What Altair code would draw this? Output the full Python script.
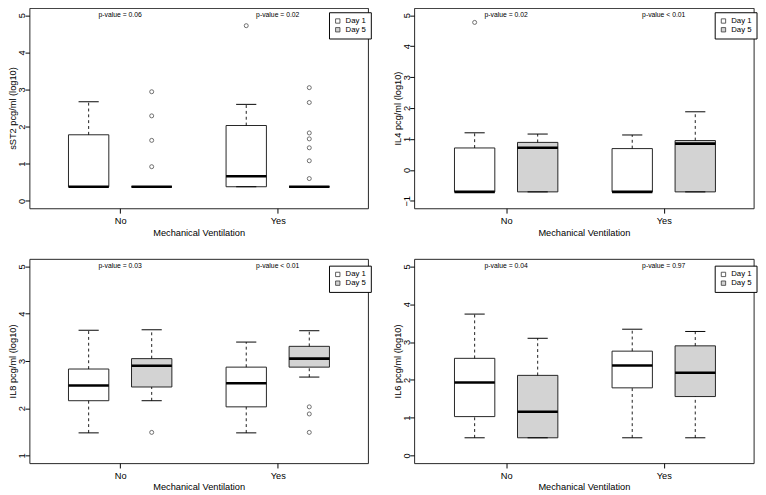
import altair as alt
import pandas as pd

FONT = "Liberation Sans"

# ---- shared categories ----
vent_groups = ["No", "No", "Yes", "Yes"]
days = ["Day 1", "Day 5", "Day 1", "Day 5"]
box_positions = [1.0, 2.0, 3.5, 4.5]
group_positions = [1.5, 4.0]
group_labels = ["No", "Yes"]
day_levels = ["Day 1", "Day 5"]
day_colors = ["white", "#d3d3d3"]
pvalue_y = 5

# ---- sST2 ----
sst2_lo = [0.38, 0.38, 0.38, 0.38]
sst2_q1 = [0.38, 0.38, 0.38, 0.38]
sst2_med = [0.38, 0.38, 0.66, 0.38]
sst2_q3 = [1.78, 0.38, 2.03, 0.38]
sst2_hi = [2.67, 0.38, 2.60, 0.38]
sst2_out_box = [1, 1, 1, 1, 2, 3, 3, 3, 3, 3, 3, 3]
sst2_out_val = [2.94, 2.29, 1.63, 0.92, 4.72, 3.05, 2.65, 1.83, 1.67, 1.43, 1.08, 0.60]
sst2_p = ["p-value = 0.06", "p-value = 0.02"]
sst2_ticks = [0, 1, 2, 3, 4, 5]

# ---- IL4 ----
il4_lo = [-0.71, -0.71, -0.71, -0.71]
il4_q1 = [-0.71, -0.71, -0.71, -0.71]
il4_med = [-0.71, 0.72, -0.71, 0.85]
il4_q3 = [0.71, 0.89, 0.69, 0.95]
il4_hi = [1.20, 1.16, 1.13, 1.88]
il4_out_box = [0]
il4_out_val = [4.77]
il4_p = ["p-value = 0.02", "p-value < 0.01"]
il4_ticks = [-1, 0, 1, 2, 3, 4, 5]

# ---- IL8 ----
il8_lo = [1.48, 2.16, 1.48, 2.66]
il8_q1 = [2.16, 2.45, 2.03, 2.87]
il8_med = [2.48, 2.90, 2.53, 3.05]
il8_q3 = [2.83, 3.05, 2.87, 3.31]
il8_hi = [3.65, 3.66, 3.40, 3.64]
il8_out_box = [1, 3, 3, 3]
il8_out_val = [1.49, 2.03, 1.88, 1.49]
il8_p = ["p-value = 0.03", "p-value < 0.01"]
il8_ticks = [1, 2, 3, 4, 5]

# ---- IL6 ----
il6_lo = [0.47, 0.47, 0.47, 0.47]
il6_q1 = [1.03, 0.47, 1.79, 1.56]
il6_med = [1.93, 1.16, 2.38, 2.19]
il6_q3 = [2.57, 2.12, 2.76, 2.90]
il6_hi = [3.74, 3.10, 3.34, 3.28]
il6_out_box = []
il6_out_val = []
il6_p = ["p-value = 0.04", "p-value = 0.97"]
il6_ticks = [0, 1, 2, 3, 4, 5]

PX_PER_UNIT = 64.8
BOX_HALF = 0.32
CAP_HALF = 0.16


def y_domain(ticks):
    lo, hi = min(ticks), max(ticks)
    ext = (hi - lo) * 0.04
    return [lo - ext, hi + ext]


def panel(ytitle, lo, q1, med, q3, hi, out_box, out_val, pvals, ticks,
          width, height, xmin, legend_top):
    boxes = pd.DataFrame(dict(group=vent_groups, day=days, pos=box_positions,
                              lo=lo, q1=q1, med=med, q3=q3, hi=hi))
    outs = pd.DataFrame(dict(pos=[box_positions[i] for i in out_box],
                             value=list(out_val)))
    ptext = pd.DataFrame(dict(pos=group_positions,
                              y=[pvalue_y] * len(group_positions), label=pvals))

    xs = alt.Scale(domain=[xmin, xmin + width / PX_PER_UNIT], nice=False, zero=False)
    ys = alt.Scale(domain=y_domain(ticks), nice=False, zero=False)
    mid = sum(group_positions) / 2
    xax = alt.Axis(values=group_positions,
                   labelExpr=f"datum.value < {mid} ? '{group_labels[0]}' : '{group_labels[1]}'",
                   tickSize=5, labelPadding=2.5, titlePadding=2.5, labelFlush=False,
                   labelOverlap=False, grid=False, domain=False)
    yax = alt.Axis(values=ticks, labelAngle=270, labelAlign="center",
                   labelBaseline="middle", labelPadding=3.5, tickSize=4.5,
                   minExtent=11, maxExtent=11, titlePadding=1, titleBaseline="bottom",
                   labelFlush=False, labelOverlap=False, grid=False, domain=False,
                   format="d")

    def X(f):
        return alt.X(f, type="quantitative", scale=xs, axis=xax,
                     title="Mechanical Ventilation")

    def Y(f):
        return alt.Y(f, type="quantitative", scale=ys, axis=yax, title=ytitle)

    base = alt.Chart(boxes).transform_calculate(
        x1=f"datum.pos - {BOX_HALF}", x2=f"datum.pos + {BOX_HALF}",
        c1=f"datum.pos - {CAP_HALF}", c2=f"datum.pos + {CAP_HALF}")

    rect = base.mark_rect(stroke="#222", strokeWidth=1).encode(
        x=X("x1"), x2="x2:Q", y=Y("q1"), y2="q3:Q",
        fill=alt.Fill("day:N", scale=alt.Scale(domain=day_levels, range=day_colors),
                      legend=alt.Legend(orient="none", legendX=width - 40,
                                        legendY=legend_top, title=None,
                                        strokeColor="black", fillColor="white",
                                        padding=5, symbolType="square", symbolSize=20,
                                        symbolStrokeColor="#333", symbolStrokeWidth=0.8,
                                        labelFontSize=8, labelFont=FONT, labelOffset=4,
                                        rowPadding=1, labelColor="black")))
    whisk_up = base.mark_rule(strokeDash=[3, 3], color="black", strokeWidth=0.9).encode(
        x=X("pos"), y=Y("q3"), y2="hi:Q")
    whisk_lo = base.mark_rule(strokeDash=[3, 3], color="black", strokeWidth=0.9).encode(
        x=X("pos"), y=Y("lo"), y2="q1:Q")
    cap_hi = base.mark_rule(color="black", strokeWidth=1).encode(
        x=X("c1"), x2="c2:Q", y=Y("hi"))
    cap_lo = base.mark_rule(color="black", strokeWidth=1).encode(
        x=X("c1"), x2="c2:Q", y=Y("lo"))
    median = base.mark_rule(color="black", strokeWidth=2.6).encode(
        x=X("x1"), x2="x2:Q", y=Y("med"))
    layers = [rect, whisk_up, whisk_lo, cap_hi, cap_lo, median]
    if len(outs):
        layers.append(alt.Chart(outs).mark_point(shape="circle", filled=False, size=17,
                                                 color="black", strokeWidth=0.8).encode(
            x=X("pos"), y=Y("value")))
    layers.append(alt.Chart(ptext).mark_text(fontSize=7, font=FONT, baseline="middle",
                                             color="black").encode(
        x=X("pos"), y=Y("y"), text="label:N"))
    return alt.layer(*layers).properties(width=width, height=height)


LEFT_W, LEFT_XMIN = 348, 0.06
RIGHT_W, RIGHT_XMIN = 349, 0.04
TOP_H, BOTTOM_H = 206, 210

p1 = panel("sST2 pcg/ml (log10)", sst2_lo, sst2_q1, sst2_med, sst2_q3, sst2_hi,
           sst2_out_box, sst2_out_val, sst2_p, sst2_ticks, LEFT_W, TOP_H, LEFT_XMIN, 4.5)
p2 = panel("IL4 pcg/ml (log10)", il4_lo, il4_q1, il4_med, il4_q3, il4_hi,
           il4_out_box, il4_out_val, il4_p, il4_ticks, RIGHT_W, TOP_H, RIGHT_XMIN, 4.5)
p3 = panel("IL8 pcg/ml (log10)", il8_lo, il8_q1, il8_med, il8_q3, il8_hi,
           il8_out_box, il8_out_val, il8_p, il8_ticks, LEFT_W, BOTTOM_H, LEFT_XMIN, 7)
p4 = panel("IL6 pcg/ml (log10)", il6_lo, il6_q1, il6_med, il6_q3, il6_hi,
           il6_out_box, il6_out_val, il6_p, il6_ticks, RIGHT_W, BOTTOM_H, RIGHT_XMIN, 7)


def row(a, b):
    return alt.hconcat(a, b, spacing=20.5).resolve_scale(
        x="independent", y="independent", fill="independent").resolve_legend(
        fill="independent")


chart = alt.vconcat(row(p1, p2), row(p3, p4), spacing=21).resolve_scale(
    x="independent", y="independent", fill="independent").resolve_legend(
    fill="independent").properties(
    padding={"left": -1, "top": -8, "right": 0, "bottom": 0}
).configure_view(stroke="#222", strokeWidth=1).configure_axis(
    labelFont=FONT, titleFont=FONT, labelFontSize=9.5, titleFontSize=9.5,
    titleFontWeight="normal", labelColor="black", titleColor="black",
    tickColor="black", tickWidth=1)

chart.save("out.html", embed_options={"renderer": "svg", "actions": False})
